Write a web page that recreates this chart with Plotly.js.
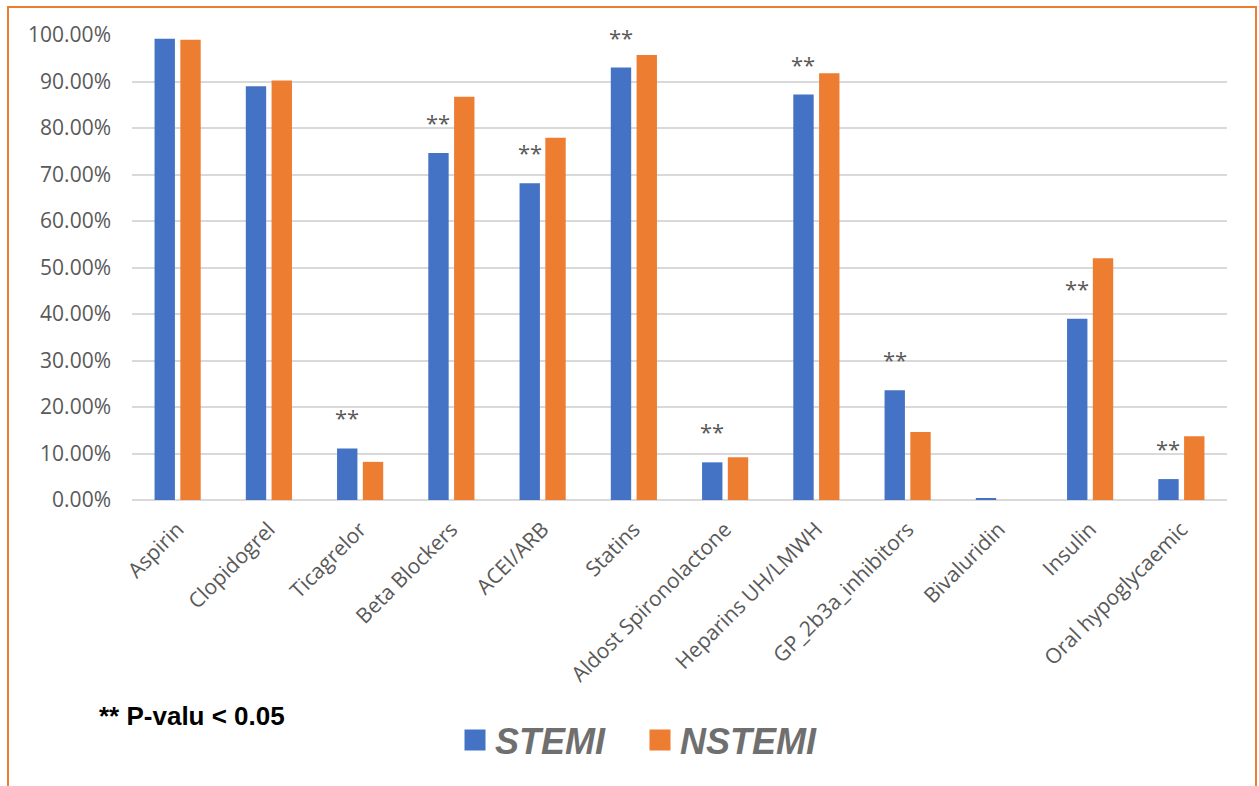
<!DOCTYPE html>
<html>
<head>
<meta charset="utf-8">
<script src="https://cdn.plot.ly/plotly-3.0.1.min.js"></script>
<style>
  html, body { margin: 0; padding: 0; background: #ffffff; }
  #chart { width: 1259px; height: 786px; }
</style>
</head>
<body>
<div id="chart"></div>
<script>
// ---- data ----
const categories = [
  "Aspirin", "Clopidogrel", "Ticagrelor", "Beta Blockers", "ACEI/ARB", "Statins",
  "Aldost Spironolactone", "Heparins UH/LMWH", "GP_2b3a_inhibitors", "Bivaluridin",
  "Insulin", "Oral hypoglycaemic"
];
const stemi  = [0.992, 0.890, 0.111, 0.746, 0.681, 0.930, 0.081, 0.872, 0.236, 0.003, 0.390, 0.045];
const nstemi = [0.990, 0.902, 0.082, 0.867, 0.779, 0.957, 0.092, 0.918, 0.146, 0.000, 0.520, 0.137];
const significant = [false, false, true, true, true, true, true, true, true, false, true, true];
const seriesNames = ["STEMI", "NSTEMI"];
const seriesColors = ["#4472C4", "#ED7D31"];
const yTicks = [0, 0.1, 0.2, 0.3, 0.4, 0.5, 0.6, 0.7, 0.8, 0.9, 1.0];
const noteText = "** P-valu < 0.05";
const starText = "**";

// ---- figure geometry ----
const W = 1259, H = 786;
const mL = 132, mR = 32, mT = 35, mB = 286;
const plotW = W - mL - mR, plotH = H - mT - mB;
const px2x = p => (p - mL) / plotW;
const py2y = p => (H - mB - p) / plotH;

const traces = [
  { type: "bar", name: seriesNames[0], x: categories, y: stemi,
    marker: { color: seriesColors[0] }, showlegend: false, legendgroup: "s", hoverinfo: "x+y" },
  { type: "bar", name: seriesNames[1], x: categories, y: nstemi,
    marker: { color: seriesColors[1] }, showlegend: false, legendgroup: "n", hoverinfo: "x+y" },
  // legend proxies (no points drawn)
  { type: "scatter", mode: "markers", name: seriesNames[0], x: [null], y: [null],
    marker: { symbol: "square", size: 16, color: seriesColors[0],
              line: { color: seriesColors[0], width: 5 } }, legendgroup: "s" },
  { type: "scatter", mode: "markers", name: seriesNames[1], x: [null], y: [null],
    marker: { symbol: "square", size: 16, color: seriesColors[1],
              line: { color: seriesColors[1], width: 5 } }, legendgroup: "n" }
];

const slotPx = plotW / categories.length;
const bargap = 0.435;
const barOffsetPx = slotPx * (1 - bargap) / 4;

const annotations = [];
categories.forEach((c, i) => {
  if (significant[i]) {
    annotations.push({
      x: c, y: stemi[i], xref: "x", yref: "y",
      text: starText, showarrow: false,
      xshift: -barOffsetPx, yshift: 31, yanchor: "middle", xanchor: "center",
      font: { family: "Open Sans, sans-serif", size: 22, color: "#595959" }
    });
  }
});
annotations.push({
  x: px2x(97), y: py2y(716), xref: "paper", yref: "paper",
  xanchor: "left", yanchor: "middle", showarrow: false,
  text: "<b>" + noteText.replace("<", "&lt;") + "</b>",
  font: { family: "Liberation Sans, Arial, sans-serif", size: 26, color: "#000000" }
});

const layout = {
  width: W, height: H,
  margin: { l: mL, r: mR, t: mT, b: mB, pad: 0 },
  paper_bgcolor: "#ffffff", plot_bgcolor: "#ffffff",
  barmode: "group", bargap: bargap, bargroupgap: 0.21,
  font: { family: "Open Sans, sans-serif", color: "#595959" },
  xaxis: {
    type: "category", tickangle: -45, showgrid: false, showline: false, zeroline: false,
    ticks: "", ticklabelstandoff: 12, ticklabelshift: 0,
    tickfont: { family: "Open Sans, sans-serif", size: 21, color: "#595959" },
    fixedrange: true
  },
  yaxis: {
    range: [0, 1], tickvals: yTicks, tickformat: ".2%",
    showgrid: true, gridcolor: "#d9d9d9", gridwidth: 1.5,
    zeroline: true, zerolinecolor: "#d9d9d9", zerolinewidth: 1.5,
    showline: false, ticks: "", ticklabelstandoff: 20,
    tickfont: { family: "Open Sans, sans-serif", size: 21, color: "#595959" },
    fixedrange: true
  },
  showlegend: true,
  legend: {
    orientation: "h", x: px2x(640), xanchor: "center", y: py2y(740), yanchor: "middle",
    font: { family: "Liberation Sans, Arial, sans-serif", size: 36, color: "#6f6f6f",
            weight: "bold", style: "italic" },
    entrywidth: 140, entrywidthmode: "pixels",
    bgcolor: "rgba(0,0,0,0)", itemclick: false, itemdoubleclick: false
  },
  annotations: annotations,
  shapes: [{
    type: "rect", xref: "paper", yref: "paper", layer: "above",
    x0: px2x(8), x1: px2x(1256), y0: py2y(800), y1: py2y(7),
    line: { color: "#ED7D31", width: 2 }, fillcolor: "rgba(0,0,0,0)"
  }]
};

Plotly.newPlot("chart", traces, layout, { displayModeBar: false });
</script>
</body>
</html>
